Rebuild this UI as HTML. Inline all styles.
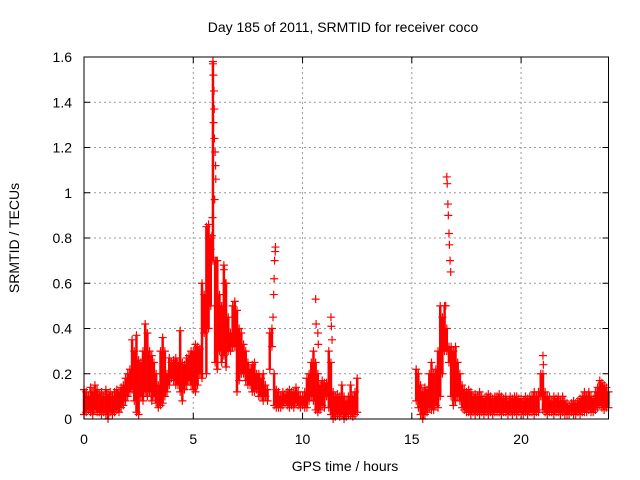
<!DOCTYPE html>
<html><head><meta charset="utf-8"><style>
body{margin:0;background:#fff;}
svg{display:block;font-family:"Liberation Sans",sans-serif;}
</style></head><body>
<svg id="chart" width="640" height="480">
<text x="343" y="32" font-size="14" text-anchor="middle">Day 185 of 2011, SRMTID for receiver coco</text>
<text x="345" y="471" font-size="14" text-anchor="middle">GPS time / hours</text>
<text transform="translate(19,238) rotate(-90)" font-size="14" text-anchor="middle">SRMTID / TECUs</text>
<g id="grid"></g><g id="ticks"></g><g id="marks"></g>
<rect x="84" y="57" width="524.5" height="362" fill="none" stroke="#000" stroke-width="1"/>
</svg>
<script>
const xTicks=[0,5,10,15,20];
const yTicks=[0,0.2,0.4,0.6,0.8,1,1.2,1.4,1.6];
const yTickLabels=["0","0.2","0.4","0.6","0.8","1","1.2","1.4","1.6"];
const seg1Start=0.0;
const seg1Hi=[0.13,0.12,0.1,0.14,0.12,0.15,0.13,0.11,0.12,0.1,
0.13,0.11,0.12,0.1,0.12,0.13,0.12,0.14,0.15,0.18,
0.2,0.22,0.35,0.3,0.37,0.26,0.25,0.3,0.42,0.38,
0.3,0.28,0.25,0.2,0.15,0.3,0.36,0.3,0.2,0.27,
0.25,0.26,0.27,0.25,0.39,0.25,0.24,0.27,0.28,0.3,
0.3,0.33,0.32,0.31,0.6,0.55,0.85,0.86,0.8,1.58,
0.7,0.7,0.55,0.5,0.68,0.6,0.45,0.38,0.5,0.52,
0.48,0.4,0.38,0.33,0.3,0.25,0.22,0.24,0.25,0.2,
0.2,0.18,0.2,0.15,0.13,0.38,0.4,0.2,0.13,0.12,
0.1,0.12,0.11,0.12,0.13,0.12,0.12,0.14,0.12,0.1,
0.1,0.12,0.18,0.2,0.25,0.3,0.25,0.2,0.15,0.17,
0.16,0.16,0.3,0.25,0.12,0.1,0.11,0.1,0.15,0.1,
0.08,0.1,0.15,0.1,0.12,0.18];
const seg1Lo=[0.02,0.03,0.04,0.03,0.02,0.04,0.03,0.03,0.02,0.03,
0.02,0.0,0.03,0.02,0.03,0.04,0.03,0.05,0.06,0.08,
0.1,0.12,0.13,0.08,0.03,0.02,0.1,0.08,0.12,0.1,
0.12,0.08,0.1,0.07,0.05,0.06,0.07,0.1,0.12,0.15,
0.18,0.17,0.15,0.15,0.12,0.08,0.13,0.15,0.17,0.15,
0.13,0.12,0.15,0.2,0.18,0.38,0.2,0.4,0.5,0.7,
0.25,0.22,0.3,0.25,0.28,0.23,0.3,0.3,0.32,0.32,
0.12,0.17,0.2,0.2,0.17,0.15,0.15,0.12,0.12,0.13,
0.1,0.1,0.08,0.1,0.08,0.22,0.32,0.06,0.05,0.05,
0.05,0.06,0.07,0.06,0.05,0.06,0.05,0.07,0.06,0.05,
0.06,0.05,0.05,0.08,0.1,0.08,0.04,0.03,0.04,0.06,
0.05,0.1,0.05,0.02,0.0,0.01,0.02,0.01,0.02,0.0,
0.01,0.02,0.02,0.01,0.02,0.03];
const seg2Start=15.2;
const seg2Hi=[0.22,0.2,0.15,0.12,0.14,0.13,0.2,0.25,
0.2,0.22,0.3,0.5,0.45,0.5,0.4,0.32,0.32,0.3,
0.32,0.25,0.2,0.15,0.13,0.12,0.13,0.12,0.1,0.11,
0.1,0.12,0.1,0.09,0.1,0.11,0.1,0.09,0.1,0.1,
0.11,0.1,0.09,0.1,0.08,0.1,0.09,0.1,0.1,0.09,
0.09,0.08,0.1,0.09,0.1,0.1,0.12,0.1,0.12,0.2,
0.2,0.12,0.1,0.1,0.08,0.1,0.09,0.1,0.08,0.1,
0.08,0.07,0.06,0.07,0.08,0.07,0.08,0.09,0.1,0.12,
0.1,0.12,0.1,0.09,0.12,0.14,0.17,0.16,0.15,0.14,0.12];
const seg2Lo=[0.08,0.05,0.02,0.0,0.02,0.03,0.05,0.04,
0.04,0.06,0.05,0.1,0.2,0.3,0.3,0.25,0.1,0.06,
0.08,0.1,0.08,0.05,0.04,0.03,0.03,0.02,0.03,0.02,
0.03,0.02,0.03,0.02,0.03,0.02,0.03,0.02,0.03,0.03,
0.03,0.02,0.03,0.03,0.02,0.03,0.02,0.03,0.02,0.03,
0.03,0.02,0.03,0.02,0.03,0.03,0.02,0.03,0.03,0.1,
0.04,0.03,0.02,0.03,0.03,0.02,0.03,0.03,0.02,0.03,
0.02,0.02,0.02,0.03,0.02,0.02,0.03,0.02,0.03,0.03,
0.03,0.04,0.03,0.03,0.04,0.05,0.06,0.05,0.04,0.05,0.05];
const spikeTimes=[5.9,5.92,5.95,5.96,5.93,5.97,6.0,6.02,6.03,5.98,5.88,5.85,5.8,6.05,6.4,6.45,8.65,8.68,8.7,8.72,8.75,8.76,10.6,10.62,10.7,10.72,11.3,11.32,11.35,16.6,16.62,16.65,16.67,16.7,16.72,16.55,16.75,16.78,21.0,21.02];
const spikeValues=[1.57,1.52,1.45,1.37,1.31,1.24,1.18,1.12,1.06,0.97,0.89,0.81,0.75,0.7,0.66,0.6,0.45,0.55,0.62,0.7,0.74,0.76,0.53,0.42,0.38,0.33,0.45,0.41,0.35,1.07,1.04,0.95,0.9,0.82,0.77,0.5,0.7,0.65,0.28,0.24];

const X0=84,X1=608.5,Y0=419,Y1=57;
const xs=t=>X0+(t/24)*(X1-X0);
const ys=v=>Y0-(v/1.6)*(Y0-Y1);
const NS="http://www.w3.org/2000/svg";
const grid=document.getElementById('grid'),ticks=document.getElementById('ticks'),marks=document.getElementById('marks');
function mk(tag,attrs,parent){const e=document.createElementNS(NS,tag);for(const k in attrs)e.setAttribute(k,attrs[k]);parent.appendChild(e);return e;}
yTicks.forEach((v,i)=>{
  const y=ys(v);
  if(i>0&&i<yTicks.length-1){const g=mk('line',{x1:X0,x2:X1,y1:y,y2:y,stroke:'#999','stroke-dasharray':'2,3'},grid);
  
  }
  const t=mk('text',{x:X0-12,y:y+5,'font-size':14,'text-anchor':'end'},ticks);t.textContent=yTickLabels[i];
  
  
  mk('line',{x1:X0,x2:X0+6,y1:y,y2:y,stroke:'#000'},ticks);
  mk('line',{x1:X1,x2:X1-6,y1:y,y2:y,stroke:'#000'},ticks);
});
xTicks.forEach(v=>{
  const x=xs(v);
  if(v>0){const g=mk('line',{x1:x,x2:x,y1:Y0,y2:Y1,stroke:'#999','stroke-dasharray':'2,3'},grid);
  
  }
  const t=mk('text',{x:x,y:Y0+25,'font-size':14,'text-anchor':'middle'},ticks);t.textContent=String(v);
  
  
  mk('line',{x1:x,x2:x,y1:Y0,y2:Y0-6,stroke:'#000'},ticks);
  mk('line',{x1:x,x2:x,y1:Y1,y2:Y1+6,stroke:'#000'},ticks);
});
function cross(t,v){
  const x=xs(t),y=ys(v);
  const p=mk('path',{d:`M${x-4} ${y}h8M${x} ${y-4}v8`,stroke:'#f00','stroke-width':1.2,fill:'none'},marks);
  
  
}
function seg(start,lo,hi){
  for(let i=0;i<hi.length;i++){
    const t=start+i*0.1;
    const r=mk('line',{x1:xs(t),x2:xs(t),y1:ys(lo[i]),y2:ys(hi[i]),stroke:'#f00','stroke-width':2.5},marks);
    
    
    cross(t,lo[i]);cross(t,hi[i]);
  }
}
seg(seg1Start,seg1Lo,seg1Hi);
seg(seg2Start,seg2Lo,seg2Hi);
spikeTimes.forEach((t,i)=>cross(t,spikeValues[i]));
</script>
</body></html>
